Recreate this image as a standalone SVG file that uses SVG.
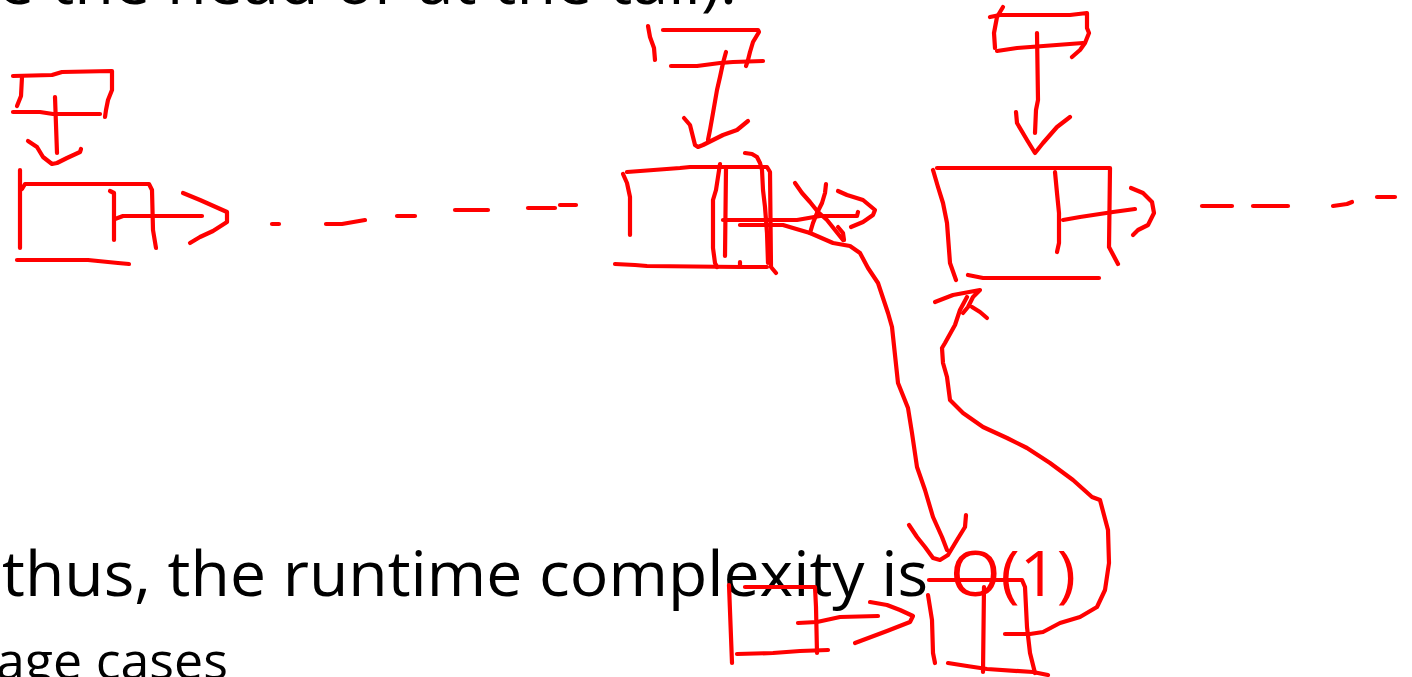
<svg xmlns="http://www.w3.org/2000/svg" width="1412" height="677" viewBox="0 0 1412 677">
  <style>
    .ink { fill: none; stroke: #ff0000; stroke-width: 4.2; stroke-linecap: round; stroke-linejoin: round; }
    .body { font-family: "Open Sans", "Noto Sans", "Liberation Sans", sans-serif; fill: #000000; }
    .red { fill: #ff0000; }
  </style>

  <rect x="0" y="0" width="1412" height="677" fill="#ffffff"/>

  <!-- slide text -->
  <g id="slide-text">
    <text class="body" x="-2" y="4" font-size="62" textLength="739" lengthAdjust="spacingAndGlyphs">e the head or at the tail).</text>
    <text class="body" x="2" y="596" font-size="62" textLength="926" lengthAdjust="spacingAndGlyphs">thus, the runtime complexity is</text>
    <text class="body red" x="950" y="596" font-size="63" textLength="126" lengthAdjust="spacingAndGlyphs">O(1)</text>
    <text class="body" x="-4" y="679" font-size="52" textLength="232" lengthAdjust="spacingAndGlyphs">age cases</text>
  </g>

  <!-- head pointer -->
  <g id="head-pointer">
    <path class="ink" d="M13,76 L52,75 L62,72 L112,71 L112,90 L108,100 L106,110 L105,117"/>
    <path class="ink" d="M22,77 L21,96 L17,106"/>
    <path class="ink" d="M13,112 L40,112 L53,114 L100,114"/>
  </g>

  <!-- first list node -->
  <g id="node-first">
    <path class="ink" d="M20,170 L20,248"/>
    <path class="ink" d="M22,189 L25,184 L149,184 L152,190 L153,230 L156,248"/>
    <path class="ink" d="M17,260 L88,260 L118,263 L129,264"/>
    <path class="ink" d="M110,191 L114,193 L114,240"/>
  </g>

  <!-- middle pointer box -->
  <g id="mid-pointer">
    <path class="ink" d="M648,26 L650,37 L654,48 L655,60"/>
    <path class="ink" d="M663,30 L758,30 L759,32 L753,42 L750,52 L748,60 L746,66"/>
    <path class="ink" d="M671,66 L697,66 L720,63 L733,62 L763,61"/>
  </g>

  <!-- node before the insertion point -->
  <g id="node-prev">
    <path class="ink" d="M623,174 L627,183 L630,197 L630,235"/>
    <path class="ink" d="M627,172 L680,168 L690,167 L767,167 L770,172 L771,267 L776,273"/>
    <path class="ink" d="M615,264 L635,265 L647,266 L740,267 L767,267"/>
    <path class="ink" d="M740,262 L740,267"/>
    <path class="ink" d="M720,164 L718,177 L716,190 L713,200 L713,248 L715,263 L717,267"/>
    <path class="ink" d="M726,168 L725,256"/>
    <path class="ink" d="M745,153 L752,154 L757,157 L760,163 L762,170 L763,190 L765,207 L767,233 L768,263"/>
  </g>

  <!-- tail pointer -->
  <g id="tail-pointer">
    <path class="ink" d="M990,17 L1000,15 L1070,15 L1087,13 L1087,28 L1089,33 L1085,43 L1080,50 L1072,57"/>
    <path class="ink" d="M1003,7 L997,17 L994,33 L995,48"/>
    <path class="ink" d="M997,51 L1017,48 L1083,43"/>
  </g>

  <!-- node after the insertion point -->
  <g id="node-next">
    <path class="ink" d="M937,168 L1110,168 L1109,247 L1118,264"/>
    <path class="ink" d="M933,170 L938,187 L943,203 L947,223 L950,263 L956,280"/>
    <path class="ink" d="M968,275 L983,278 L1099,278"/>
    <path class="ink" d="M1055,172 L1057,193 L1059,213 L1059,243 L1057,252"/>
  </g>

  <!-- small node at the bottom left -->
  <g id="node-small">
    <path class="ink" d="M729,585 L732,663"/>
    <path class="ink" d="M745,587 L815,587 L816,607 L817,653"/>
    <path class="ink" d="M737,654 L773,653 L800,651 L828,650"/>
  </g>

  <!-- inserted node -->
  <g id="node-new">
    <path class="ink" d="M929,580 L1022,580 L1025,587 L1027,627 L1030,653 L1035,673"/>
    <path class="ink" d="M928,595 L932,620 L933,653 L935,663"/>
    <path class="ink" d="M984,587 L983,672"/>
    <path class="ink" d="M948,663 L967,666 L987,669 L1033,672 L1048,675"/>
  </g>

  <g id="connectors">
    <!-- head pointer to first node -->
    <path class="ink" d="M55,97 L57,153"/>
    <path class="ink" d="M28,141 L37,147 L43,157 L52,164 L57,163 L67,158 L80,152 L81,149"/>

    <!-- first node next link -->
    <path class="ink" d="M115,219 L123,216 L202,216"/>
    <path class="ink" d="M183,193 L200,200 L218,208 L227,212 L227,222 L213,231 L200,237 L190,243"/>

    <!-- elided run of nodes -->
    <path class="ink" d="M272,224 L279,224"/>
    <path class="ink" d="M326,224 L342,224 L365,220"/>
    <path class="ink" d="M397,216 L415,216"/>
    <path class="ink" d="M455,210 L488,210"/>
    <path class="ink" d="M528,208 L555,208"/>
    <path class="ink" d="M560,205 L576,205"/>

    <!-- middle pointer to previous node -->
    <path class="ink" d="M726,52 L723,63 L720,77 L717,90 L713,113 L710,130 L708,140"/>
    <path class="ink" d="M684,118 L690,125 L693,137 L695,145 L698,147 L703,145 L723,135 L737,130 L748,121"/>

    <!-- old next link, crossed out -->
    <path class="ink" d="M723,220 L797,220 L820,216 L857,216 L858,212"/>
    <path class="ink" d="M838,191 L847,195 L863,200 L875,210 L873,215 L863,222 L851,227"/>
    <path class="ink" d="M795,183 L802,193 L810,202 L818,212 L827,220 L835,230 L843,240"/>
    <path class="ink" d="M826,184 L825,193 L822,203 L817,213 L813,223 L810,233"/>
    <path class="ink" d="M838,227 L843,233 L844,240"/>

    <!-- previous node to inserted node -->
    <path class="ink" d="M740,225 L783,225 L793,228 L810,233 L833,243 L850,246 L860,253 L868,268 L878,283 L888,313 L892,327 L898,383 L908,408 L912,433 L917,467 L925,490 L933,517 L942,537 L947,550"/>
    <path class="ink" d="M909,525 L917,537 L925,547 L933,558 L940,560 L948,555 L957,540 L965,527 L966,515"/>

    <!-- tail pointer to next node -->
    <path class="ink" d="M1037,33 L1038,100 L1036,110 L1035,133"/>
    <path class="ink" d="M1016,112 L1017,123 L1027,140 L1035,153 L1043,143 L1057,127 L1070,117"/>

    <!-- next node link onward -->
    <path class="ink" d="M1063,220 L1080,217 L1113,212 L1135,209"/>
    <path class="ink" d="M1131,188 L1143,193 L1152,202 L1154,213 L1148,225 L1138,230 L1133,235"/>
    <path class="ink" d="M1202,206 L1232,206"/>
    <path class="ink" d="M1253,206 L1288,206"/>
    <path class="ink" d="M1333,206 L1347,204 L1352,202"/>
    <path class="ink" d="M1377,197 L1395,197"/>

    <!-- inserted node to next node -->
    <path class="ink" d="M1005,634 L1030,634 L1043,632 L1060,623 L1080,617 L1097,607 L1105,590 L1109,563 L1108,530 L1100,500 L1092,497 L1073,480 L1050,463 L1027,448 L1007,438 L983,427 L963,413 L950,400 L947,377 L943,363 L942,348 L945,343 L955,325 L960,310 L967,297"/>
    <path class="ink" d="M935,302 L953,295 L980,290 L973,297 L968,307 L963,313"/>
    <path class="ink" d="M972,307 L980,312 L987,318"/>

    <!-- small node link -->
    <path class="ink" d="M798,623 L817,622 L840,617 L878,616"/>
    <path class="ink" d="M870,602 L887,605 L900,610 L913,616 L910,622 L887,631 L855,643"/>
  </g>
</svg>
